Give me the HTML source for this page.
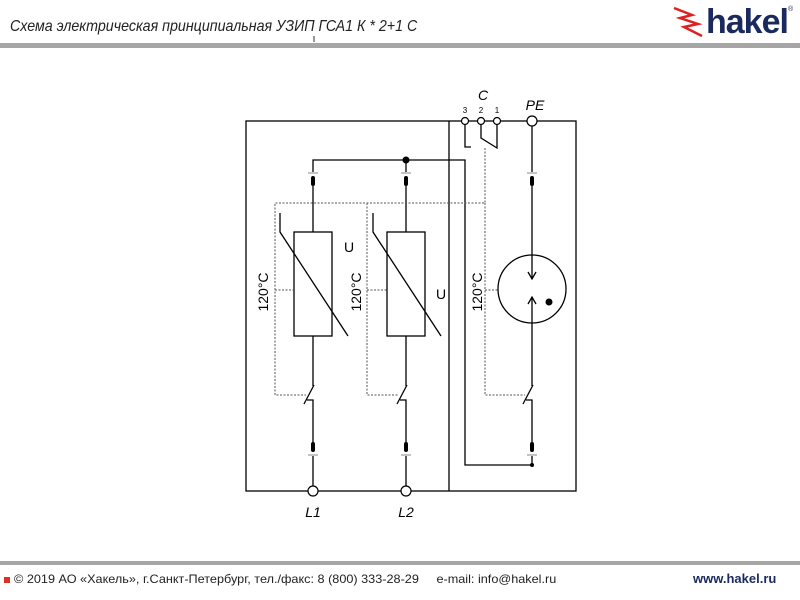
<!DOCTYPE html>
<html><head><meta charset="utf-8"><style>
body{margin:0;width:800px;height:600px;background:#fff;overflow:hidden;position:relative;font-family:"Liberation Sans",sans-serif}
.t{position:absolute;white-space:nowrap}
</style></head><body>
<div class="t" style="left:10px;top:18px;font-size:16px;font-style:italic;color:#222;font-family:'Liberation Sans Narrow','Liberation Sans',sans-serif;transform:scaleX(0.89);transform-origin:left">Схема электрическая принципиальная УЗИП ГСА1 К * 2+1 С</div>
<div style="position:absolute;left:0;top:43px;width:800px;height:5px;background:#a6a6a6"></div>
<div class="t" style="left:706px;top:3px;font-size:34px;font-weight:bold;color:#1a2a5e;letter-spacing:-1px;font-family:'Liberation Sans Narrow','Liberation Sans',sans-serif">hakel</div>
<div class="t" style="left:788px;top:6px;font-size:7px;color:#1a2a5e">®</div>
<svg style="position:absolute;left:668px;top:6px" width="40" height="34"><path d="M6 2 L24 9 L12 12 L30 18 L16 21 L34 30" fill="none" stroke="#e02020" stroke-width="2.5"/></svg>
<div style="position:absolute;left:0;top:561px;width:800px;height:4px;background:#a6a6a6"></div>
<div style="position:absolute;left:4px;top:577px;width:6px;height:6px;background:#e03020"></div>
<div class="t" style="left:14px;top:572px;font-size:12px;color:#222;transform:scaleX(1.055);transform-origin:left">© 2019 АО «Хакель», г.Санкт-Петербург, тел./факс: 8 (800) 333-28-29 &nbsp;&nbsp;&nbsp; e-mail: info@hakel.ru</div>
<div class="t" style="left:693px;top:571px;font-size:13px;font-weight:bold;color:#1a2a5e">www.hakel.ru</div>
<svg style="position:absolute;left:0;top:0" width="800" height="600" font-family="Liberation Sans, sans-serif">
<g fill="none" stroke="#000" stroke-width="1.3">
<rect x="246" y="121" width="330" height="370"/>
<line x1="449" y1="121" x2="449" y2="491"/>
<polyline points="313,172 313,160 465,160 465,465 532,465"/>
<line x1="406" y1="160" x2="406" y2="172"/>
<polyline points="465,125 465,147 471,147"/>
<polyline points="481,125 481,138 497,148 497,125"/>
<g id="b">
<line x1="313" y1="186" x2="313" y2="232"/>
<rect x="294" y="232" width="38" height="104"/>
<polyline points="280,213 280,232 348,336"/>
<line x1="313" y1="336" x2="313" y2="386"/>
<line x1="314" y1="385" x2="304" y2="404"/>
<polyline points="307,400 313,400 313,443"/>
<line x1="313" y1="456" x2="313" y2="486"/>
</g>
<use href="#b" x="93"/>
<line x1="532" y1="126" x2="532" y2="172"/>
<line x1="532" y1="186" x2="532" y2="278"/>
<polyline points="528,272 532,279 536,272"/>
<polyline points="528,304 532,297 536,304"/>
<line x1="532" y1="297" x2="532" y2="386"/>
<line x1="533" y1="385" x2="523" y2="404"/>
<polyline points="526,400 532,400 532,443"/>
<line x1="532" y1="456" x2="532" y2="465"/>
<circle cx="532" cy="289" r="34"/>
</g>
<g fill="#fff" stroke="#000" stroke-width="1.2">
<circle cx="465" cy="121" r="3.5"/><circle cx="481" cy="121" r="3.5"/><circle cx="497" cy="121" r="3.5"/>
<circle cx="532" cy="121" r="5"/>
<circle cx="313" cy="491" r="5"/><circle cx="406" cy="491" r="5"/>
</g>
<g fill="#000">
<circle cx="406" cy="160" r="3.5"/><circle cx="549" cy="302" r="3.5"/><circle cx="532" cy="465" r="2"/>
<rect x="311" y="176" width="4" height="10" rx="2"/><rect x="404" y="176" width="4" height="10" rx="2"/><rect x="530" y="176" width="4" height="10" rx="2"/>
<rect x="311" y="442" width="4" height="10" rx="2"/><rect x="404" y="442" width="4" height="10" rx="2"/><rect x="530" y="442" width="4" height="10" rx="2"/>
</g>
<g stroke="#888" stroke-width="1">
<line x1="308" y1="173" x2="318" y2="173"/><line x1="401" y1="173" x2="411" y2="173"/><line x1="527" y1="173" x2="537" y2="173"/>
<line x1="308" y1="455" x2="318" y2="455"/><line x1="401" y1="455" x2="411" y2="455"/><line x1="527" y1="455" x2="537" y2="455"/>
</g>
<g fill="none" stroke="#555" stroke-width="1" stroke-dasharray="2,1.5">
<polyline points="485,148 485,203 275,203 275,395 306,395"/>
<polyline points="367,203 367,395 399,395"/>
<polyline points="485,203 485,395 525,395"/>
<line x1="275" y1="290" x2="294" y2="290"/>
<line x1="367" y1="290" x2="387" y2="290"/>
<line x1="485" y1="290" x2="498" y2="290"/>
</g>
<g font-size="14" fill="#000">
<text x="344" y="252">U</text><text x="436" y="299">U</text>
<text transform="translate(268,292) rotate(-90)" text-anchor="middle">120°C</text>
<text transform="translate(361,292) rotate(-90)" text-anchor="middle">120°C</text>
<text transform="translate(482,292) rotate(-90)" text-anchor="middle">120°C</text>
<text x="483" y="100" text-anchor="middle" font-style="italic">C</text>
<text x="535" y="110" text-anchor="middle" font-style="italic">PE</text>
<text x="313" y="517" text-anchor="middle" font-style="italic">L1</text>
<text x="406" y="517" text-anchor="middle" font-style="italic">L2</text>
</g>
<g font-size="8" fill="#000" text-anchor="middle">
<text x="465" y="113">3</text><text x="481" y="113">2</text><text x="497" y="113">1</text>
</g>
<line x1="314" y1="36" x2="314" y2="42" stroke="#000" stroke-width="0.8"/>
</svg>
</body></html>
